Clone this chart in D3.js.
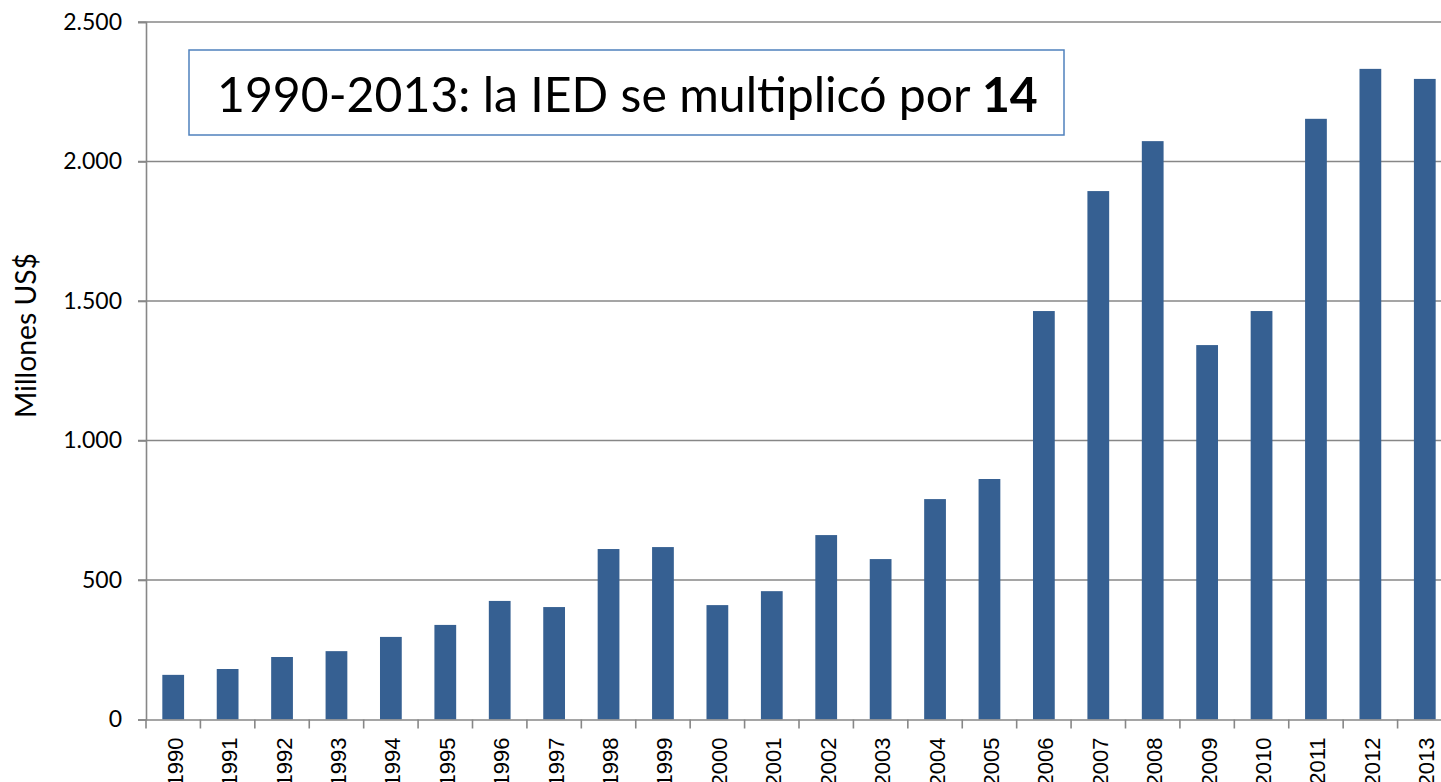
<!DOCTYPE html>
<html>
<head>
<meta charset="utf-8">
<script src="https://cdn.jsdelivr.net/npm/d3@7"></script>
<style>
  body { margin: 0; background: #fff; overflow: hidden; }
  svg { display: block; }
</style>
</head>
<body>
<script>
// IED, millones US$
var years = ["1990","1991","1992","1993","1994","1995","1996","1997","1998","1999","2000","2001",
             "2002","2003","2004","2005","2006","2007","2008","2009","2010","2011","2012","2013"];
var ied = [160, 181, 224, 245, 296, 339, 425, 403, 611, 618, 410, 460,
           661, 575, 790, 862, 1464, 1894, 2073, 1342, 1464, 2153, 2332, 2296];
var yTicks = [0, 500, 1000, 1500, 2000, 2500];

var w = 1441, h = 782;
var plotL = 146, plotR = 1452, plotT = 22, plotB = 719.5;

var svg = d3.select("body").append("svg")
    .attr("width", w)
    .attr("height", h);

var x = d3.scaleBand().domain(years).range([plotL, plotR]).paddingInner(0.6).paddingOuter(0.3);
var xTick = d3.scaleBand().domain(years).range([plotL, plotR]);
var y = d3.scaleLinear().domain([0, 2500]).range([plotB, plotT]);

var es = d3.formatLocale({decimal: ",", thousands: ".", grouping: [3], currency: ["", "$"]});
var fmt = es.format(",d");

// gridlines
svg.append("g")
    .selectAll("line")
    .data(yTicks.slice(1))
    .enter()
    .append("line")
    .attr("x1", plotL - 8)
    .attr("x2", plotR)
    .attr("y1", function(d) { return y(d); })
    .attr("y2", function(d) { return y(d); })
    .attr("stroke", "#878787")
    .attr("stroke-width", 1.6);

// bars
svg.append("g")
    .selectAll("rect")
    .data(ied)
    .enter()
    .append("rect")
    .attr("x", function(d, i) { return x(years[i]); })
    .attr("width", x.bandwidth())
    .attr("y", function(d) { return y(d); })
    .attr("height", function(d) { return plotB - y(d); })
    .attr("fill", "#366092");

// y axis
var yAxis = svg.append("g")
    .attr("transform", "translate(" + plotL + ",0)")
    .call(d3.axisLeft(y).tickValues(yTicks).tickFormat(fmt).tickSize(8).tickPadding(16));
yAxis.select(".domain").attr("stroke", "#878787").attr("stroke-width", 1.6);
yAxis.selectAll(".tick line").attr("stroke", "#878787").attr("stroke-width", 1.6);
yAxis.selectAll("text")
    .attr("fill", "#000")
    .style("font-family", "Lato, 'Open Sans', sans-serif")
    .style("font-size", "23px");

// x axis
var xAxis = svg.append("g")
    .attr("transform", "translate(0," + plotB + ")")
    .call(d3.axisBottom(xTick).tickSize(0).tickFormat(""));
xAxis.select(".domain").attr("stroke", "#878787").attr("stroke-width", 1.6);

svg.append("g")
    .selectAll("line")
    .data(years)
    .enter()
    .append("line")
    .attr("x1", function(d) { return xTick(d); })
    .attr("x2", function(d) { return xTick(d); })
    .attr("y1", plotB)
    .attr("y2", plotB + 9)
    .attr("stroke", "#878787")
    .attr("stroke-width", 1.6);

svg.append("g")
    .selectAll("text")
    .data(years)
    .enter()
    .append("text")
    .attr("transform", function(d) {
        return "translate(" + (xTick(d) + xTick.bandwidth() / 2 + 9.5) + "," + (plotB + 18) + ") rotate(-90)";
    })
    .attr("text-anchor", "end")
    .style("font-family", "'Liberation Sans', Arial, sans-serif")
    .style("font-size", "22px")
    .attr("fill", "#000")
    .text(function(d) { return d; });

// y title
var yTitle = svg.append("text")
    .attr("transform", "translate(36,335.5) rotate(-90)")
    .attr("text-anchor", "middle")
    .style("font-family", "Lato, 'Open Sans', sans-serif")
    .style("font-size", "26px")
    .attr("fill", "#000")
    .text("Millones US$");
var yl = yTitle.node().getComputedTextLength();
yTitle.style("font-size", (26 * 165 / yl) + "px");

// annotation box
svg.append("rect")
    .attr("x", 189)
    .attr("y", 50)
    .attr("width", 875)
    .attr("height", 85)
    .attr("fill", "#fff")
    .attr("stroke", "#4f81bd")
    .attr("stroke-width", 1.5);

var note = svg.append("text")
    .attr("x", 217)
    .attr("y", 112)
    .style("font-family", "Lato, 'Open Sans', sans-serif")
    .style("font-size", "50px")
    .attr("fill", "#000");
note.append("tspan").text("1990-2013: la IED se multiplicó por ");
note.append("tspan").style("font-weight", "bold").text("14");
var nl = note.node().getComputedTextLength();
note.style("font-size", (50 * 821 / nl) + "px");
</script>
</body>
</html>
